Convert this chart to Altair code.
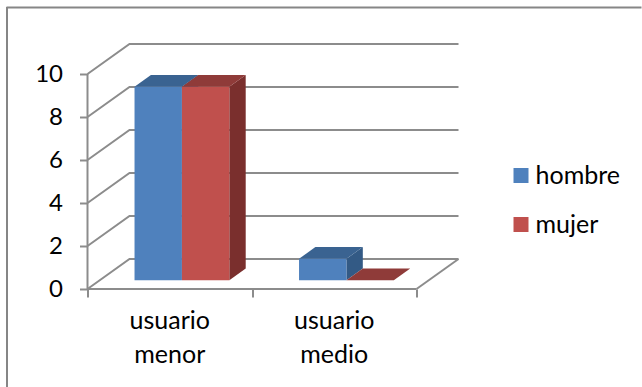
import altair as alt
import pandas as pd

# Chart values
categories = ["usuario\nmenor", "usuario\nmedio"]
series_names = ["hombre", "mujer"]
hombre = [9, 1]
mujer = [9, 0]
y_ticks = [0, 2, 4, 6, 8, 10]

# Face shades of each series: front, top, side
front_colors = ["#4F81BD", "#C0504D"]
top_colors = ["#3A6391", "#8F3B39"]
side_colors = ["#335A85", "#7A2F2D"]
line_color = "#8C8C8C"
font = "Lato"

# Oblique projection of the box: plot size and depth of the floor, in pixels
plot_w, plot_h = 371, 245
cat_px, unit_px = 164.5, 21.5
depth_x = 42 / cat_px
depth_y = 30 / unit_px
bar_w = 47.4 / cat_px
near, far = 0.29, 0.68

x_scale = alt.Scale(domain=[0, plot_w / cat_px], range=[0, plot_w], nice=False, zero=False)
y_scale = alt.Scale(domain=[0, plot_h / unit_px], range=[plot_h, 0], nice=False, zero=False)


def project(x, v, d):
    """Place a point given by category position, value and depth (0 front, 1 back)."""
    return x + d * depth_x, v + d * depth_y


# Walls and floor
frame = []
for v in y_ticks:
    for d, xpos in [(0, 0), (1, 0), (1, len(categories))]:
        px, py = project(xpos, v, d)
        frame.append({"line": f"g{v}", "x": px, "y": py})
px, py = project(len(categories), 0, 0)
frame.append({"line": "floor_front", "x": 0, "y": 0})
frame.append({"line": "floor_front", "x": px, "y": py})
frame.append({"line": "floor_right", "x": px, "y": py})
px, py = project(len(categories), 0, 1)
frame.append({"line": "floor_right", "x": px, "y": py})
frame.append({"line": "value_axis", "x": 0, "y": 0})
frame.append({"line": "value_axis", "x": 0, "y": 10})

# Bar faces, computed from the values
fronts, tops, sides = [], [], []
for s, (name, values) in enumerate(zip(series_names, [hombre, mujer])):
    for c, v in enumerate(values):
        left = c + 0.5 - bar_w + s * bar_w
        right = left + bar_w
        x0, y0 = project(left, 0, near)
        x1, y1 = project(right, v, near)
        fronts.append({"serie": name, "x": x0, "x2": x1, "y": y0, "y2": y1})
        key = f"{name}{c}"
        for d in (near, far):
            a, b = project(left, v, d)
            e, _ = project(right, v, d)
            tops.append({"key": key, "shade": top_colors[s], "x": a, "x2": e, "y": b})
            a, lo = project(right, 0, d)
            _, hi = project(right, v, d)
            sides.append({"key": key, "shade": side_colors[s], "x": a, "y": lo, "y2": hi})

labels = [{"x": c + 0.5, "label": t} for c, t in enumerate(categories)]

x_enc = alt.X("x:Q", scale=x_scale, title=None,
              axis=alt.Axis(values=[0, 1, 2], labels=False, domain=False, grid=False,
                            ticks=True, tickSize=8, tickColor=line_color, tickWidth=2))
y_enc = alt.Y("y:Q", scale=y_scale, title=None,
              axis=alt.Axis(values=y_ticks, domain=False, grid=False, tickSize=8,
                            tickColor=line_color, tickWidth=2, labelFont=font,
                            labelFontSize=24, labelColor="black", labelPadding=17))

walls = alt.Chart(pd.DataFrame(frame)).mark_line(color=line_color, strokeWidth=2).encode(
    x=x_enc, y=y_enc, detail="line:N")

side_layer = alt.Chart(pd.DataFrame(sides)).mark_area(opacity=1).encode(
    x=alt.X("x:Q", scale=x_scale),
    y=alt.Y("y:Q", scale=y_scale),
    y2="y2:Q",
    fill=alt.Fill("shade:N", scale=None),
    detail="key:N")

top_layer = alt.Chart(pd.DataFrame(tops)).mark_area(orient="horizontal", opacity=1).encode(
    y=alt.Y("y:Q", scale=y_scale),
    x=alt.X("x:Q", scale=x_scale),
    x2="x2:Q",
    fill=alt.Fill("shade:N", scale=None),
    detail="key:N")

front_layer = alt.Chart(pd.DataFrame(fronts)).mark_rect().encode(
    x=alt.X("x:Q", scale=x_scale),
    x2="x2:Q",
    y=alt.Y("y:Q", scale=y_scale),
    y2="y2:Q",
    color=alt.Color("serie:N",
                    scale=alt.Scale(domain=series_names, range=front_colors),
                    legend=alt.Legend(title=None, orient="none", legendX=421, legendY=119,
                                      symbolType="square", symbolSize=225,
                                      symbolStrokeWidth=0, labelFont=font, labelFontSize=25,
                                      labelColor="black", rowPadding=23, labelOffset=2)))

cat_labels = alt.Chart(pd.DataFrame(labels)).mark_text(
    font=font, fontSize=25, color="black", lineBreak="\n", lineHeight=33.5,
    baseline="top", align="center").encode(
    x=alt.X("x:Q", scale=x_scale),
    y=alt.value(265),
    text="label:N")

# Outer border: left and top edges only
border_left = alt.Chart(pd.DataFrame({"a": [0]})).mark_rule(color="#868686", strokeWidth=2).encode(
    x=alt.value(-80.5), y=alt.value(-37), y2=alt.value(343))
border_top = alt.Chart(pd.DataFrame({"a": [0]})).mark_rule(color="#868686", strokeWidth=2).encode(
    x=alt.value(-81), x2=alt.value(554), y=alt.value(-36.5))

chart = alt.layer(border_left, border_top, walls, side_layer, top_layer, front_layer, cat_labels).properties(
    width=plot_w, height=plot_h,
    padding={"left": 87.5, "top": 44, "right": 183.5, "bottom": 98},
    autosize=alt.AutoSizeParams(type="none"),
    background="white",
).configure_view(stroke=None)

chart.save("out.html", embed_options={"renderer": "svg", "actions": False})
